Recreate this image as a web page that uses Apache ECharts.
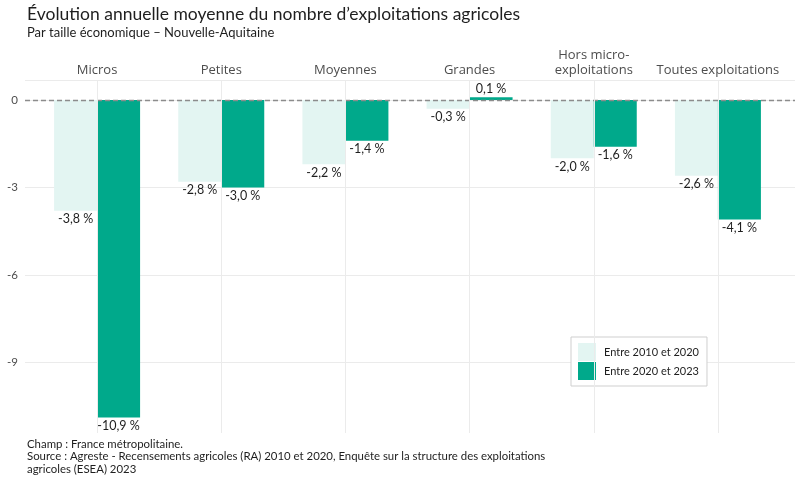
<!DOCTYPE html>
<html><head><meta charset="utf-8">
<script src="https://cdn.jsdelivr.net/npm/echarts@6/dist/echarts.min.js"></script>
<style>html,body{margin:0;padding:0;background:#fff}#c{width:800px;height:480px}</style>
</head><body><div id="c"></div>
<script>
const categories = ['Micros', 'Petites', 'Moyennes', 'Grandes', 'Hors micro-\nexploitations', 'Toutes exploitations'];
const seriesNames = ['Entre 2010 et 2020', 'Entre 2020 et 2023'];
const values2010_2020 = [-3.8, -2.8, -2.2, -0.3, -2.0, -2.6];
const values2020_2023 = [-10.9, -3.0, -1.4, 0.1, -1.6, -4.1];
const yTicks = [0, -3, -6, -9];

const FONT = 'Lato';
const fmt = v => v.toFixed(1).replace('.', ',') + ' %';
const toItems = arr => arr.map(v => ({
  value: v,
  label: { position: v >= 0 ? 'top' : 'bottom' }
}));

const chart = echarts.init(document.getElementById('c'), null, { renderer: 'canvas' });
const labelStyle = { show: true, formatter: p => fmt(p.value), color: '#1e1e1e', fontSize: 12.5, fontFamily: FONT, distance: 2 };

chart.setOption({
  animation: false,
  backgroundColor: '#fff',
  textStyle: { fontFamily: FONT },
  title: [
    { text: 'Évolution annuelle moyenne du nombre d’exploitations agricoles', left: 22, top: 0,
      textStyle: { fontSize: 17.5, fontWeight: 'normal', color: '#1e1e1e', fontFamily: FONT } },
    { text: 'Par taille économique – Nouvelle-Aquitaine', left: 22, top: 21,
      textStyle: { fontSize: 13, fontWeight: 'normal', color: '#1e1e1e', fontFamily: FONT } },
    { text: 'Champ : France métropolitaine.\nSource : Agreste - Recensements agricoles (RA) 2010 et 2020, Enquête sur la structure des exploitations\nagricoles (ESEA) 2023',
      left: 22, top: 433,
      textStyle: { fontSize: 11.4, lineHeight: 12.5, fontWeight: 'normal', color: '#1e1e1e', fontFamily: FONT } }
  ],
  legend: {
    orient: 'vertical', left: 571, top: 337,
    itemWidth: 18, itemHeight: 18, itemGap: 1,
    padding: [6, 8, 6, 7],
    backgroundColor: '#fff', borderColor: '#cfcfcf', borderWidth: 1, borderRadius: 0,
    icon: 'rect',
    data: seriesNames,
    textStyle: { fontSize: 11, color: '#1e1e1e', fontFamily: FONT, padding: [0, 0, 0, 3] }
  },
  grid: [
    { left: 25, right: 5, top: 80, bottom: 30.3 },
    { left: 35, right: 20, top: 80, bottom: 47 }
  ],
  xAxis: [
    { gridIndex: 0, type: 'category', data: categories, show: false },
    { gridIndex: 1, type: 'category', data: categories, position: 'top',
      axisLine: { show: false }, axisTick: { show: false }, splitLine: { show: false },
      axisLabel: { interval: 0, margin: 2, fontSize: 13, lineHeight: 15, color: '#4d4d4d', fontFamily: 'Open Sans' } }
  ],
  yAxis: [
    { gridIndex: 0, type: 'value', min: -12, max: 0.69, interval: 3,
      axisLine: { show: false }, axisTick: { show: false },
      axisLabel: { margin: 7, fontSize: 11.5, color: '#4d4d4d', fontFamily: FONT,
        formatter: v => yTicks.indexOf(v) >= 0 ? String(v) : '' },
      splitLine: { show: true, showMinLine: false, lineStyle: { color: '#ebebeb', width: 1 } } },
    { gridIndex: 1, type: 'value', min: -11.43, max: 0.69, show: false, splitLine: { show: false } }
  ],
  series: [
    { type: 'line', xAxisIndex: 0, yAxisIndex: 0, data: [], silent: true,
      markLine: { silent: true, symbol: 'none', label: { show: false },
        lineStyle: { color: '#8c8c8c', type: [5, 3], width: 1.3 },
        data: [{ yAxis: 0 }] } },
    { type: 'line', xAxisIndex: 1, yAxisIndex: 1, data: [], silent: true, z: 1,
      markLine: { silent: true, symbol: 'none', label: { show: false },
        lineStyle: { color: '#ebebeb', type: 'solid', width: 1 },
        data: categories.map(c => ({ xAxis: c })) } },
    { name: seriesNames[0], type: 'bar', xAxisIndex: 1, yAxisIndex: 1, barWidth: 43, barGap: '0%', z: 2,
      itemStyle: { color: '#e3f5f2' }, label: labelStyle, data: toItems(values2010_2020) },
    { name: seriesNames[1], type: 'bar', xAxisIndex: 1, yAxisIndex: 1, barWidth: 43, barGap: '0%', z: 2,
      itemStyle: { color: '#00a98b' }, label: labelStyle, data: toItems(values2020_2023) }
  ]
});
</script></body></html>
